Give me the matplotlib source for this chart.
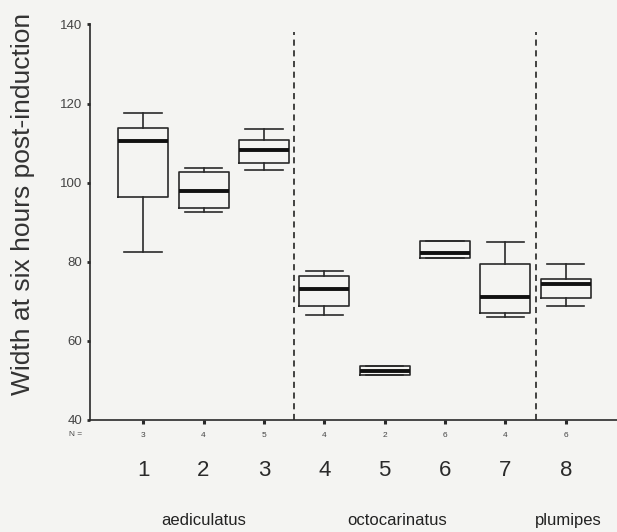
import matplotlib.pyplot as plt

plt.rcParams['font.family'] = ['Liberation Sans', 'DejaVu Sans']

# data
groups = [1, 2, 3, 4, 5, 6, 7, 8]
n_counts = [3, 4, 5, 4, 2, 6, 4, 6]
whislo = [82.4, 92.6, 103.2, 66.4, 51.4, 80.8, 66.0, 68.7]
q1 = [96.3, 93.6, 104.9, 68.8, 51.4, 80.8, 66.9, 70.8]
med = [110.4, 97.8, 108.3, 73.2, 52.4, 82.3, 71.0, 74.4]
q3 = [113.9, 102.6, 110.7, 76.4, 53.7, 85.1, 79.5, 75.5]
whishi = [117.5, 103.7, 113.6, 77.7, 53.7, 85.1, 85.0, 79.4]
species = ["aediculatus", "octocarinatus", "plumipes"]
species_x = [2, 5.2, 8.05]
dividers = [3.5, 7.5]

bg = '#f4f4f2'
fg = '#2a2a2a'

fig = plt.figure(figsize=(6.17, 5.32), dpi=100, facecolor=bg)
ax = fig.add_axes([0.146, 0.211, 0.854, 0.743], facecolor=bg)

stats = []
for i in range(len(groups)):
    stats.append(dict(whislo=whislo[i], q1=q1[i], med=med[i], q3=q3[i],
                      whishi=whishi[i], fliers=[]))

ax.bxp(stats, positions=groups, widths=0.83, showfliers=False,
       boxprops=dict(color=fg, linewidth=1.2),
       whiskerprops=dict(color=fg, linewidth=1.2),
       capprops=dict(color=fg, linewidth=1.2),
       medianprops=dict(color='#111111', linewidth=2.8),
       capwidths=0.62)

for d in dividers:
    ax.plot([d, d], [40, 138], color='#111111', linestyle=(0, (4, 3)), linewidth=1.1)

ax.set_xlim(0.12, 8.85)
ax.set_ylim(40, 140)
ax.set_yticks([40, 60, 80, 100, 120, 140])
ax.set_xticks(groups)
ax.set_xticklabels([str(g) for g in groups], fontsize=16, color=fg)
ax.tick_params(axis='x', length=3, width=2.2, pad=26, color=fg)
ax.tick_params(axis='y', length=2, width=2, labelsize=9.5, labelcolor='#444444', color=fg)
for s in ['top', 'right']:
    ax.spines[s].set_visible(False)
for s in ['left', 'bottom']:
    ax.spines[s].set_color(fg)
    ax.spines[s].set_linewidth(1.2)

fig.text(23 / 617, 1 - 204 / 532, "Width at six hours post-induction", rotation=90,
         ha='center', va='center', fontsize=19, color='#333333')

trans = ax.get_xaxis_transform()
ax.annotate("N =", xy=(0.12, 0), xycoords=trans, xytext=(-8, -15), textcoords='offset pixels',
            ha='right', va='center', fontsize=6, color='#444444')
for g, n in zip(groups, n_counts):
    ax.annotate(str(n), xy=(g, 0), xycoords=trans, xytext=(0, -16), textcoords='offset pixels',
                ha='center', va='center', fontsize=6, color='#444444')
for name, x in zip(species, species_x):
    ax.annotate(name, xy=(x, 0), xycoords=trans, xytext=(0, -101), textcoords='offset pixels',
                ha='center', va='center', fontsize=12, color='#222222', annotation_clip=False)

fig.savefig("out.png", dpi=100, facecolor=bg)
